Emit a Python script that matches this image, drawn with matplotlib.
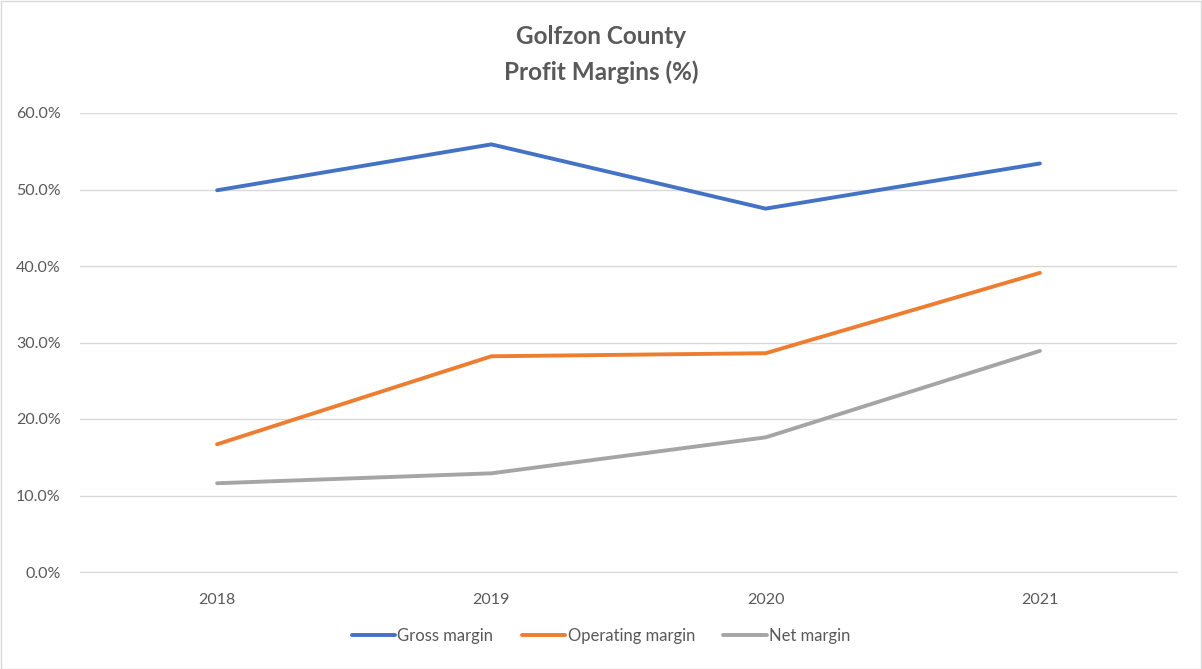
import matplotlib
matplotlib.use("Agg")
import matplotlib.pyplot as plt
from matplotlib.ticker import PercentFormatter, MultipleLocator

plt.rcParams['font.family'] = ['Lato', 'DejaVu Sans']

years = ["2018", "2019", "2020", "2021"]
gross_margin = [49.9, 55.9, 47.5, 53.4]
operating_margin = [16.7, 28.2, 28.6, 39.1]
net_margin = [11.6, 12.9, 17.6, 28.9]

W, H = 1202, 669
fig = plt.figure(figsize=(W / 100, H / 100), dpi=100)
ax = fig.add_axes([80 / W, 1 - 572 / H, (1177 - 80) / W, (572 - 113) / H])

x = range(len(years))
lw = 2.8
ax.plot(x, gross_margin, color="#4472C4", lw=lw, label="Gross margin", solid_capstyle="round")
ax.plot(x, operating_margin, color="#ED7D31", lw=lw, label="Operating margin", solid_capstyle="round")
ax.plot(x, net_margin, color="#A5A5A5", lw=lw, label="Net margin", solid_capstyle="round")

ax.set_xlim(-0.5, len(years) - 0.5)
ax.set_ylim(0, 60)
ax.yaxis.set_major_locator(MultipleLocator(10))
ax.yaxis.set_major_formatter(PercentFormatter(decimals=1))
ax.set_xticks(list(x))
ax.set_xticklabels(years)
ax.grid(axis="y", color="#D9D9D9", lw=1)
ax.set_axisbelow(True)
for s in ["top", "right", "left"]:
    ax.spines[s].set_visible(False)
ax.spines["bottom"].set_color("#D9D9D9")
ax.tick_params(axis="y", length=0, labelsize=11.5, colors="#595959", pad=14)
ax.tick_params(axis="x", length=0, labelsize=11.5, colors="#595959", pad=15)

fig.text(0.5, 1 - 36 / H, "Golfzon County", ha="center", va="center",
         fontsize=17.5, fontweight="bold", color="#595959")
fig.text(0.5, 1 - 72 / H, "Profit Margins (%)", ha="center", va="center",
         fontsize=17.5, fontweight="bold", color="#595959")

leg = fig.legend(loc="center", bbox_to_anchor=(0.5, 1 - 636 / H), ncol=3, frameon=False,
                 fontsize=12, handlelength=2.6, columnspacing=1.7, handletextpad=0.15)
for t in leg.get_texts():
    t.set_color("#595959")

fig.patches.append(plt.Rectangle((0.5 / W, 0.5 / H), 1 - 1.5 / W, 1 - 1.5 / H,
                                 transform=fig.transFigure, fill=False,
                                 edgecolor="#D9D9D9", lw=1))

fig.savefig("out.png", dpi=100, facecolor="white")
